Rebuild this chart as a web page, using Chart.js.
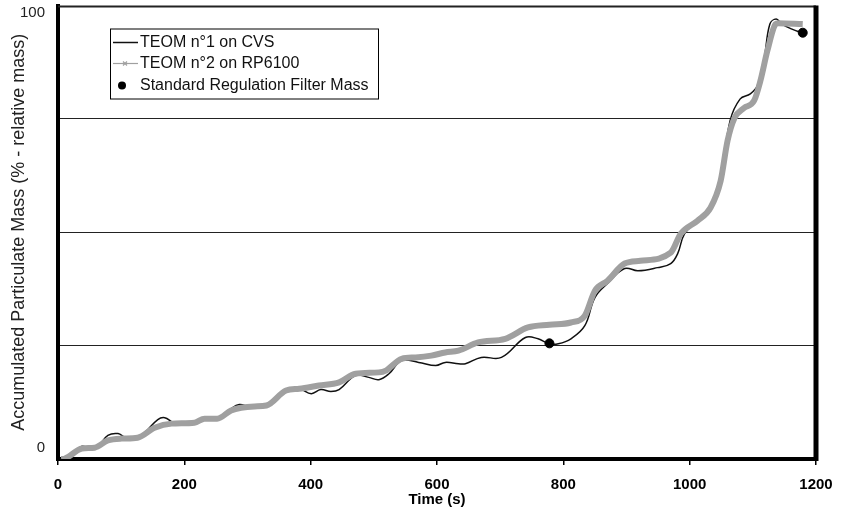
<!DOCTYPE html>
<html>
<head>
<meta charset="utf-8">
<script src="https://cdn.jsdelivr.net/npm/chart.js@4.4.1/dist/chart.umd.min.js"></script>
<style>
  html, body { margin: 0; padding: 0; background: #fff; }
</style>
</head>
<body>
<canvas id="myChart" width="842" height="510"></canvas>
<script>
// TEOM n°1 on CVS (black line)
const timeCvs = [3, 19, 38, 50, 63, 79, 95, 107, 121, 137, 158, 169, 184, 216, 236, 255, 274, 287, 303, 330,
  361, 382, 401, 416, 432, 445, 471, 492, 508, 524, 544, 571, 598, 613, 634, 645, 670, 702, 740, 760,
  778, 792, 812, 834, 850, 870, 897, 918, 949, 970, 981, 992, 1012, 1033, 1049, 1064, 1080, 1096, 1107, 1118,
  1127, 1137, 1146, 1162, 1179];
const massCvs = [0, 0.8, 2.8, 2.3, 2.8, 5.2, 5.6, 4.7, 4.5, 5.8, 8.7, 9.1, 8.0, 8.0, 8.9, 8.9, 11.1, 12.0, 11.6, 11.8,
  15.1, 15.5, 14.4, 15.3, 14.9, 15.3, 18.4, 18.0, 17.5, 18.8, 21.7, 21.3, 20.6, 21.3, 21.0, 21.0, 22.4, 22.4, 26.8, 26.5,
  25.4, 25.4, 26.5, 29.4, 35.6, 38.7, 42.0, 41.5, 42.2, 43.1, 45.3, 49.7, 52.5, 55.4, 61.8, 74.6, 79.4, 80.5, 82.3, 88.4,
  95.9, 97.0, 95.9, 94.8, 93.9];

// TEOM n°2 on RP6100 (thick grey line)
const timeRp = [5, 11, 38, 58, 79, 101, 126, 153, 180, 216, 232, 252, 274, 290, 311, 330, 361, 382, 413, 445,
  471, 508, 519, 544, 566, 591, 613, 634, 665, 708, 744, 778, 812, 834, 850, 870, 897, 922, 970, 986,
  1012, 1033, 1049, 1060, 1071, 1086, 1102, 1112, 1123, 1136, 1140, 1179];
const massRp = [0, 0.1, 2.3, 2.5, 4.1, 4.5, 4.7, 6.9, 7.8, 8.0, 8.9, 8.9, 10.7, 11.3, 11.6, 11.8, 15.1, 15.5, 16.2, 16.9,
  18.8, 19.1, 19.5, 22.1, 22.4, 22.8, 23.5, 23.9, 25.7, 26.5, 29.0, 29.6, 30.1, 31.6, 37.1, 39.3, 43.1, 43.7, 45.5, 49.7,
  52.5, 55.4, 61.3, 70.2, 75.2, 77.4, 79.0, 83.4, 90.0, 95.9, 96.1, 95.9];

// filter weighings
const timeFilter = [778, 1179];
const massFilter = [25.5, 94.0];

const yLabelTicks = [0, 100];

const FONT = "'Liberation Sans', Arial, sans-serif";

function toPoints(xs, ys) {
  return xs.map((x, i) => ({ x: x, y: ys[i] }));
}

// top / right edges of the plot frame
const framePlugin = {
  id: 'frame',
  afterDatasetsDraw(chart) {
    const a = chart.chartArea, ctx = chart.ctx;
    ctx.save();
    ctx.strokeStyle = '#222';
    ctx.lineWidth = 2;
    ctx.beginPath();
    ctx.moveTo(a.left, a.top + 1);
    ctx.lineTo(a.right, a.top + 1);
    ctx.stroke();
    ctx.strokeStyle = '#000';
    ctx.lineWidth = 5;
    ctx.beginPath();
    ctx.moveTo(a.right, a.top);
    ctx.lineTo(a.right, a.bottom + 2);
    ctx.stroke();
    ctx.restore();
  }
};

// boxed legend inside the plot
const legendBox = {
  id: 'legendBox',
  afterDraw(chart) {
    const a = chart.chartArea, ctx = chart.ctx;
    const x = a.left + 52, y = a.top + 23, w = 268, h = 70;
    const ds = chart.data.datasets;
    ctx.save();
    ctx.fillStyle = '#fff';
    ctx.fillRect(x, y, w, h);
    ctx.strokeStyle = '#000';
    ctx.lineWidth = 1;
    ctx.strokeRect(x + 0.5, y + 0.5, w, h);
    ctx.font = '16px ' + FONT;
    ctx.textBaseline = 'middle';
    ctx.fillStyle = '#111';
    const rows = [y + 14, y + 35, y + 57];
    // row 1
    ctx.strokeStyle = ds[1].borderColor;
    ctx.lineWidth = 1.5;
    ctx.beginPath(); ctx.moveTo(x + 3, rows[0]); ctx.lineTo(x + 28, rows[0]); ctx.stroke();
    ctx.fillText(ds[1].label, x + 30, rows[0]);
    // row 2
    ctx.strokeStyle = ds[0].borderColor;
    ctx.lineWidth = 1.2;
    ctx.beginPath(); ctx.moveTo(x + 3, rows[1]); ctx.lineTo(x + 28, rows[1]); ctx.stroke();
    ctx.beginPath();
    ctx.moveTo(x + 13, rows[1] - 2); ctx.lineTo(x + 17, rows[1] + 2);
    ctx.moveTo(x + 13, rows[1] + 2); ctx.lineTo(x + 17, rows[1] - 2);
    ctx.stroke();
    ctx.fillText(ds[0].label, x + 30, rows[1]);
    // row 3
    ctx.fillStyle = ds[2].backgroundColor;
    ctx.beginPath(); ctx.arc(x + 12, rows[2], 4, 0, Math.PI * 2); ctx.fill();
    ctx.fillStyle = '#111';
    ctx.fillText(ds[2].label, x + 30, rows[2]);
    ctx.restore();
  }
};

const data = {
  datasets: [
    {
      label: 'TEOM n°2 on RP6100',
      data: toPoints(timeRp, massRp),
      borderColor: '#a0a0a0',
      borderWidth: 6,
      pointRadius: 0,
      cubicInterpolationMode: 'monotone',
      order: 1
    },
    {
      label: 'TEOM n°1 on CVS',
      data: toPoints(timeCvs, massCvs),
      borderColor: '#111',
      borderWidth: 1.5,
      pointRadius: 0,
      tension: 0.4,
      order: 2
    },
    {
      label: 'Standard Regulation Filter Mass',
      data: toPoints(timeFilter, massFilter),
      showLine: false,
      backgroundColor: '#000',
      borderColor: '#000',
      pointRadius: 4.5,
      order: 0
    }
  ]
};

const config = {
  type: 'line',
  data: data,
  options: {
    responsive: false,
    animation: false,
    devicePixelRatio: 1,
    layout: { padding: { left: 0, right: 26, top: 5, bottom: 0 } },
    plugins: {
      legend: { display: false },
      tooltip: { enabled: false }
    },
    scales: {
      x: {
        type: 'linear',
        min: 0,
        max: 1200,
        ticks: {
          stepSize: 200,
          color: '#000',
          padding: 11,
          maxRotation: 0,
          callback: v => String(v),
          font: { family: FONT, size: 15, weight: 'bold' }
        },
        grid: { drawOnChartArea: false, tickLength: 6, color: '#000', lineWidth: 1.5 },
        border: { color: '#000', width: 4 },
        title: {
          display: true,
          text: 'Time (s)',
          color: '#000',
          font: { family: FONT, size: 15, weight: 'bold' },
          padding: { top: 0, bottom: 1 }
        },
        afterFit(s) { s.height = 51; s.paddingLeft = 0; s.paddingRight = 0; }
      },
      y: {
        type: 'linear',
        position: 'left',
        weight: 0,
        min: 0,
        max: 100,
        ticks: { stepSize: 25, display: false },
        grid: {
          drawTicks: false,
          lineWidth: 1,
          color: c => (c.tick && (c.tick.value === 0 || c.tick.value === 100)) ? 'rgba(0,0,0,0)' : '#222'
        },
        border: { color: '#000', width: 4 },
        afterFit(s) { s.width = 0; s.paddingTop = 0; s.paddingBottom = 0; }
      },
      yl: {
        type: 'linear',
        position: 'left',
        weight: 1,
        min: -2.52,
        max: 101.6,
        afterBuildTicks(s) { s.ticks = yLabelTicks.map(v => ({ value: v })); },
        ticks: {
          color: '#222',
          padding: 5,
          font: { family: FONT, size: 15 }
        },
        grid: { display: false },
        border: { display: false },
        title: {
          display: true,
          text: 'Accumulated Particulate Mass (% - relative mass)',
          color: '#222',
          font: { family: FONT, size: 18 },
          padding: { top: 8, bottom: 0 }
        },
        afterFit(s) { s.width = 58; s.paddingTop = 0; s.paddingBottom = 0; }
      }
    }
  },
  plugins: [framePlugin, legendBox]
};

var myChart = new Chart(document.getElementById('myChart'), config);
</script>
</body>
</html>
